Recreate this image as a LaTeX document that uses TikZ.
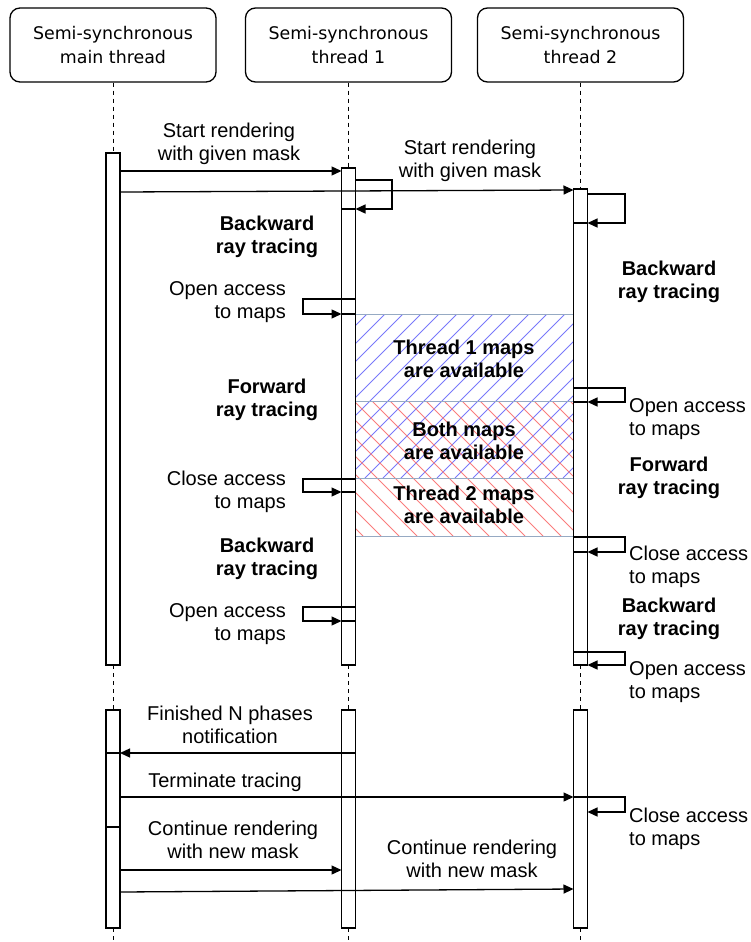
\documentclass[tikz,border=0pt]{standalone}
\usepackage{fontspec}
\setmainfont{Liberation Sans}
\newfontfamily\hdrfont{DejaVu Sans}
\usetikzlibrary{arrows.meta}
\definecolor{hatchblue}{RGB}{120,120,250}
\definecolor{hatchred}{RGB}{250,125,125}
\definecolor{zoneline}{RGB}{150,170,195}
\newcommand\lblsize{\fontsize{20}{23}\selectfont}
\newcommand\hdrsize{\hdrfont\fontsize{17.4}{24}\selectfont}
\begin{document}
\begin{tikzpicture}[x=1pt,y=-1pt,
  hdrbox/.style={draw,line width=1.3pt,rounded corners=10pt,minimum width=206pt,
    minimum height=74pt,align=center,font=\hdrsize,inner sep=0pt},
  bar/.style={draw,fill=white,line width=1.3pt,minimum width=14pt,inner sep=0pt,
    outer sep=0pt,anchor=north},
  life/.style={line width=1pt,dash pattern=on 4pt off 4pt},
  msg/.style={line width=1.3pt,-{Triangle[length=10pt,width=9pt]}},
  plain/.style={line width=1.3pt},
  lbl/.style={font=\lblsize,align=center,inner sep=0pt,anchor=base},
  bold/.style={lbl,font=\lblsize\bfseries},
  lblR/.style={font=\lblsize,align=right,inner sep=0pt,anchor=base east},
  lblL/.style={font=\lblsize,align=left,inner sep=0pt,anchor=base west},
  hatchB/.style={hatchblue,line width=0.8pt},
  hatchR/.style={hatchred,line width=0.8pt},
  zone/.style={zoneline,line width=1pt}]
\useasboundingbox (0,0) rectangle (751,942);

% ---- lifeline heads
\node[hdrbox] (hA) at (113,45) {Semi-synchronous\\main thread};
\node[hdrbox] (hB) at (348.5,45) {Semi-synchronous\\thread 1};
\node[hdrbox] (hC) at (580.5,45) {Semi-synchronous\\thread 2};

% ---- map availability zones between thread 1 and thread 2
\begin{scope}
  \clip (355.5,314) rectangle (573.5,478);
  \foreach \i in {0,...,24}{
    \pgfmathsetmacro\xa{185+18*\i}
    \draw[hatchB] (\xa,478) -- (\xa+164,314);
  }
\end{scope}
\begin{scope}
  \clip (355.5,401) rectangle (573.5,536);
  \foreach \i in {0,...,24}{
    \pgfmathsetmacro\xa{210+18*\i}
    \draw[hatchR] (\xa,401) -- (\xa+135,536);
  }
\end{scope}
\foreach \yy in {314,401,478,536}{
  \draw[zone] (355.5,\yy) -- (573.5,\yy);
}

% ---- activation bars
\node[bar,minimum height=512pt] (mA1) at (113,153) {};
\node[bar,minimum height=218pt] (mA2) at (113,710) {};
\node[bar,minimum height=497pt] (tB1) at (348.5,168) {};
\node[bar,minimum height=218pt] (tB2) at (348.5,710) {};
\node[bar,minimum height=476pt] (tC1) at (580.5,189) {};
\node[bar,minimum height=218pt] (tC2) at (580.5,710) {};

% ---- dashed lifelines
\coordinate (endA) at (113,942);
\coordinate (endB) at (348.5,942);
\coordinate (endC) at (580.5,942);
\draw[life] (hA.south) -- (mA1.north) (mA1.south) -- (mA2.north) (mA2.south) -- (endA);
\draw[life] (hB.south) -- (tB1.north) (tB1.south) -- (tB2.north) (tB2.south) -- (endB);
\draw[life] (hC.south) -- (tC1.north) (tC1.south) -- (tC2.north) (tC2.south) -- (endC);

% ---- start of rendering (label anchors sit on the last text line)
\draw[msg] (mA1.east |- 0,171) -- (tB1.west |- 0,171);
\draw[msg] (mA1.east |- 0,192) -- (tC1.west |- 0,190);
\node[lbl] (sA) at (229,160) {Start rendering\\with given mask};
\node[lbl] (sB) at (470,177) {Start rendering\\with given mask};

% self calls at the start
\draw[msg] (tB1.east |- 0,180) -- (392,180) -- (392,209) -- (tB1.east |- 0,209);
\draw[plain] (tB1.west |- 0,209) -- (tB1.east |- 0,209);
\draw[msg] (tC1.east |- 0,194) -- (625,194) -- (625,223) -- (tC1.east |- 0,223);
\draw[plain] (tC1.west |- 0,223) -- (tC1.east |- 0,223);

% ---- thread 1 phases
\node[bold] (b1) at (267,253) {Backward\\ray tracing};
\draw[msg] (tB1.east |- 0,299) -- (303,299) -- (303,314) -- (tB1.west |- 0,314);
\draw[plain] (tB1.west |- 0,314) -- (tB1.east |- 0,314);
\node[lblR] (o1) at (286,318) {Open access\\to maps};
\node[bold] (f1) at (267,416) {Forward\\ray tracing};
\draw[msg] (tB1.east |- 0,479) -- (303,479) -- (303,492) -- (tB1.west |- 0,492);
\draw[plain] (tB1.west |- 0,492) -- (tB1.east |- 0,492);
\node[lblR] (c1) at (286,508) {Close access\\to maps};
\node[bold] (b1b) at (267,575) {Backward\\ray tracing};
\draw[msg] (tB1.east |- 0,607) -- (303,607) -- (303,621) -- (tB1.west |- 0,621);
\draw[plain] (tB1.west |- 0,621) -- (tB1.east |- 0,621);
\node[lblR] (o1b) at (286,640) {Open access\\to maps};

% ---- thread 2 phases
\node[bold] (b2) at (669,298) {Backward\\ray tracing};
\draw[msg] (tC1.west |- 0,388) -- (625,388) -- (625,402) -- (tC1.east |- 0,402);
\draw[plain] (tC1.west |- 0,402) -- (tC1.east |- 0,402);
\node[lblL] (o2) at (629,435) {Open access\\to maps};
\node[bold] (f2) at (669,494) {Forward\\ray tracing};
\draw[msg] (tC1.west |- 0,537) -- (625,537) -- (625,552) -- (tC1.east |- 0,552);
\draw[plain] (tC1.west |- 0,552) -- (tC1.east |- 0,552);
\node[lblL] (c2) at (629,583) {Close access\\to maps};
\node[bold] (b2b) at (669,635) {Backward\\ray tracing};
\draw[msg] (tC1.west |- 0,652) -- (625,652) -- (625,665) -- (tC1.east |- 0,665);
\node[lblL] (o2b) at (629,698) {Open access\\to maps};

% ---- zone captions
\node[bold] (z1) at (464,377) {Thread 1 maps\\are available};
\node[bold] (z2) at (464,459) {Both maps\\are available};
\node[bold] (z3) at (464,523) {Thread 2 maps\\are available};

% ---- end of the N phases
\draw[msg] (tB2.east |- 0,753) -- (mA2.east |- 0,753);
\draw[plain] (mA2.west |- 0,753) -- (mA2.east |- 0,753);
\node[lbl] (fin) at (230,743) {Finished N phases\\notification};
\draw[msg] (mA2.east |- 0,797) -- (tC2.west |- 0,797);
\node[lbl] (term) at (225,787) {Terminate tracing};
\draw[msg] (tC2.west |- 0,797) -- (625,797) -- (625,812) -- (tC2.east |- 0,812);
\node[lblL] (c2b) at (629,845) {Close access\\to maps};
\draw[plain] (mA2.west |- 0,827) -- (mA2.east |- 0,827);
\draw[msg] (mA2.east |- 0,870) -- (tB2.west |- 0,870);
\node[lbl] (cA) at (233,858) {Continue rendering\\with new mask};
\draw[msg] (mA2.east |- 0,892) -- (tC2.west |- 0,889);
\node[lbl] (cB) at (472,877) {Continue rendering\\with new mask};
\end{tikzpicture}
\end{document}
